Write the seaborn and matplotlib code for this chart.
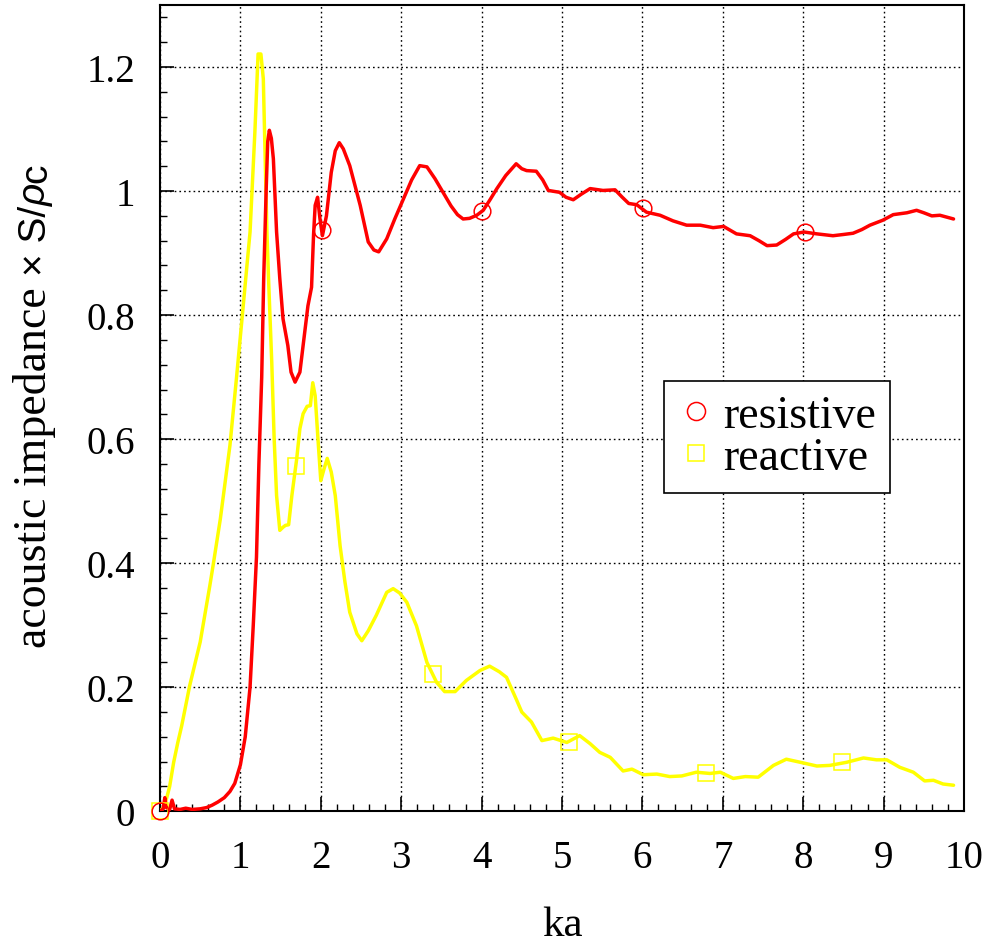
import numpy as np
import pandas as pd
import matplotlib
matplotlib.use("Agg")
import matplotlib.pyplot as plt
from matplotlib.lines import Line2D
from matplotlib.ticker import MultipleLocator, FuncFormatter
import seaborn as sns

# Radiation impedance of a piston (normalised by S/rho c) versus ka
resistive_ka = [0.00, 0.04, 0.06, 0.08, 0.12, 0.15, 0.18, 0.25, 0.32, 0.40,
                0.50, 0.58, 0.65, 0.72, 0.80, 0.87, 0.93, 1.00, 1.06, 1.12,
                1.16, 1.20, 1.23, 1.265, 1.29, 1.32, 1.34, 1.36, 1.385, 1.41,
                1.45, 1.49, 1.53, 1.59, 1.63, 1.68, 1.74, 1.78, 1.84, 1.885,
                1.91, 1.93, 1.96, 1.99, 2.02, 2.07, 2.13, 2.18, 2.23, 2.28,
                2.36, 2.49, 2.59, 2.66, 2.72, 2.82, 2.92, 3.03, 3.13, 3.23,
                3.32, 3.42, 3.52, 3.62, 3.70, 3.77, 3.85, 3.94, 4.02, 4.10,
                4.19, 4.30, 4.43, 4.50, 4.56, 4.68, 4.76, 4.83, 4.97, 5.05,
                5.14, 5.24, 5.35, 5.51, 5.66, 5.75, 5.83, 5.93, 6.05, 6.22,
                6.38, 6.55, 6.72, 6.88, 7.01, 7.17, 7.34, 7.45, 7.55, 7.67,
                7.78, 7.88, 8.01, 8.17, 8.37, 8.50, 8.62, 8.73, 8.83, 8.99,
                9.12, 9.29, 9.41, 9.50, 9.60, 9.70, 9.87]
resistive_val = [0.000, 0.004, 0.022, 0.006, 0.003, 0.018, 0.004, 0.003, 0.005, 0.003,
                 0.004, 0.006, 0.010, 0.015, 0.022, 0.032, 0.045, 0.075, 0.120, 0.200,
                 0.300, 0.410, 0.560, 0.700, 0.860, 1.000, 1.080, 1.098, 1.085, 1.052,
                 0.934, 0.859, 0.794, 0.751, 0.708, 0.692, 0.708, 0.751, 0.815, 0.845,
                 0.930, 0.977, 0.990, 0.955, 0.928, 0.960, 1.030, 1.065, 1.078, 1.068,
                 1.041, 0.977, 0.918, 0.905, 0.902, 0.923, 0.955, 0.988, 1.018, 1.041,
                 1.039, 1.020, 0.998, 0.976, 0.962, 0.955, 0.956, 0.961, 0.969, 0.985,
                 1.004, 1.025, 1.044, 1.036, 1.033, 1.032, 1.018, 1.001, 0.998, 0.990,
                 0.986, 0.995, 1.004, 1.001, 1.002, 0.990, 0.980, 0.978, 0.966, 0.961,
                 0.952, 0.945, 0.945, 0.941, 0.943, 0.931, 0.928, 0.920, 0.912, 0.913,
                 0.922, 0.931, 0.934, 0.931, 0.928, 0.930, 0.932, 0.938, 0.945, 0.953,
                 0.962, 0.965, 0.969, 0.965, 0.960, 0.961, 0.955]

reactive_ka = [0.00, 0.04, 0.08, 0.12, 0.17, 0.22, 0.27, 0.37, 0.50, 0.62,
               0.66, 0.75, 0.87, 0.95, 1.02, 1.06, 1.12, 1.18, 1.22, 1.255,
               1.285, 1.31, 1.33, 1.35, 1.39, 1.42, 1.45, 1.49, 1.53, 1.56,
               1.60, 1.64, 1.70, 1.74, 1.78, 1.83, 1.87, 1.90, 1.93, 1.97,
               2.00, 2.04, 2.08, 2.13, 2.18, 2.24, 2.30, 2.36, 2.45, 2.51,
               2.59, 2.69, 2.82, 2.90, 2.98, 3.07, 3.19, 3.32, 3.44, 3.54,
               3.67, 3.81, 3.98, 4.10, 4.22, 4.31, 4.43, 4.50, 4.62, 4.75,
               4.89, 5.06, 5.22, 5.35, 5.47, 5.60, 5.76, 5.87, 6.01, 6.18,
               6.34, 6.49, 6.67, 6.84, 6.97, 7.13, 7.28, 7.44, 7.63, 7.79,
               8.00, 8.17, 8.33, 8.54, 8.75, 8.91, 9.04, 9.20, 9.37, 9.51,
               9.62, 9.74, 9.87]
reactive_val = [0.000, 0.006, 0.020, 0.040, 0.079, 0.110, 0.138, 0.203, 0.273, 0.364,
                0.396, 0.471, 0.590, 0.697, 0.794, 0.850, 0.934, 1.095, 1.221, 1.221,
                1.181, 1.041, 0.934, 0.859, 0.724, 0.600, 0.509, 0.453, 0.458, 0.461,
                0.462, 0.509, 0.568, 0.617, 0.641, 0.653, 0.654, 0.691, 0.670, 0.590,
                0.533, 0.552, 0.569, 0.547, 0.509, 0.428, 0.370, 0.321, 0.286, 0.275,
                0.291, 0.316, 0.353, 0.359, 0.352, 0.337, 0.299, 0.240, 0.208, 0.193,
                0.193, 0.211, 0.227, 0.234, 0.225, 0.216, 0.181, 0.160, 0.144, 0.114,
                0.118, 0.111, 0.122, 0.109, 0.095, 0.087, 0.065, 0.068, 0.059, 0.060,
                0.056, 0.057, 0.063, 0.061, 0.063, 0.053, 0.056, 0.055, 0.074, 0.084,
                0.078, 0.073, 0.074, 0.079, 0.086, 0.083, 0.083, 0.071, 0.063, 0.049,
                0.050, 0.044, 0.042]

resistive_marker_ka = [0.00, 2.01, 4.01, 6.01, 8.02]
resistive_marker_val = [0.000, 0.937, 0.968, 0.973, 0.934]
reactive_marker_ka = [0.00, 1.69, 3.39, 5.09, 6.79, 8.48]
reactive_marker_val = [0.000, 0.557, 0.221, 0.111, 0.062, 0.079]

series_names = ["resistive", "reactive"]
series_colors = {"resistive": "#ff0000", "reactive": "#ffff00"}

df = pd.concat([
    pd.DataFrame({"ka": resistive_ka, "value": resistive_val, "part": "resistive"}),
    pd.DataFrame({"ka": reactive_ka, "value": reactive_val, "part": "reactive"}),
], ignore_index=True)

sns.set_theme(style="ticks")
plt.rcParams["font.family"] = ["Liberation Serif", "DejaVu Serif"]
plt.rcParams["text.color"] = "black"
plt.rcParams["axes.labelcolor"] = "black"
plt.rcParams["xtick.color"] = "black"
plt.rcParams["ytick.color"] = "black"

fig = plt.figure(figsize=(9.89, 9.45), dpi=100)
W, H = 989, 945
ax_l, ax_r, ax_t, ax_b = 160, 964, 6, 812.3
ax = fig.add_axes([ax_l / W, (H - ax_b) / H, (ax_r - ax_l) / W, (ax_b - ax_t) / H])

# reactive first so the resistive curve sits on top
for name in ["reactive", "resistive"]:
    sns.lineplot(data=df[df["part"] == name], x="ka", y="value",
                 color=series_colors[name], linewidth=2.5, sort=False,
                 estimator=None, legend=False, ax=ax, zorder=3)

ax.plot(reactive_marker_ka, reactive_marker_val, linestyle="none", marker="s",
        markersize=11.5, markerfacecolor="none", markeredgecolor="#ffff00",
        markeredgewidth=1.1, zorder=4, clip_on=False)
ax.plot(resistive_marker_ka, resistive_marker_val, linestyle="none", marker="o",
        markersize=12, markerfacecolor="none", markeredgecolor="#ff0000",
        markeredgewidth=1.1, zorder=4, clip_on=False)

ax.set_xlim(0, 10)
ax.set_ylim(0, 1.3)
ax.xaxis.set_major_locator(MultipleLocator(1))
ax.xaxis.set_minor_locator(MultipleLocator(0.2))
ax.yaxis.set_major_locator(MultipleLocator(0.2))
ax.yaxis.set_minor_locator(MultipleLocator(0.04))
ax.yaxis.set_major_formatter(FuncFormatter(lambda v, p: f"{v:g}"))
ax.xaxis.set_major_formatter(FuncFormatter(lambda v, p: f"{v:g}"))

ax.grid(True, which="major", color="black", linestyle=(0, (1.2, 2.2)), linewidth=1.0)
ax.tick_params(axis="both", which="major", direction="in", length=10, width=1.2,
               labelsize=28, colors="black", top=False, right=False)
ax.tick_params(axis="both", which="minor", direction="in", length=5, width=1.0,
               colors="black", top=False, right=False)
ax.tick_params(axis="x", which="major", pad=20)
ax.tick_params(axis="y", which="major", pad=18)
for s in ax.spines.values():
    s.set_visible(True)
    s.set_color("black")
    s.set_linewidth(1.5)

ax.set_xlabel("ka", fontsize=31, color="black")
ax.xaxis.set_label_coords(0.5, -0.117)
ax.set_ylabel("")

# y title: serif words followed by a sans-serif "× S/ρc"
ybase_x = 46 / W
ytitle_main = fig.text(ybase_x, (H - 648) / H, "acoustic impedance ", rotation=90,
                       rotation_mode="anchor", ha="left", va="baseline", fontsize=33,
                       color="black", family=["Liberation Serif"])
fig.canvas.draw()
renderer = fig.canvas.get_renderer()
y_next = ytitle_main.get_window_extent(renderer).y1
for piece, style in [("× S/", "normal"), ("ρ", "italic"), ("c", "normal")]:
    t = fig.text(ybase_x, y_next / H, piece, rotation=90, rotation_mode="anchor",
                 ha="left", va="baseline", fontsize=28, style=style,
                 color="black", family=["Liberation Sans"])
    y_next = t.get_window_extent(renderer).y1

handles = [
    Line2D([], [], linestyle="none", marker="o", markersize=13,
           markerfacecolor="none", markeredgecolor="#ff0000", markeredgewidth=1.1),
    Line2D([], [], linestyle="none", marker="s", markersize=11,
           markerfacecolor="none", markeredgecolor="#ffff00", markeredgewidth=1.1),
]
leg = ax.legend(handles, series_names, loc="center",
                bbox_to_anchor=((777 - ax_l) / (ax_r - ax_l), (ax_b - 438) / (ax_b - ax_t)),
                fontsize=33, frameon=True, fancybox=False, shadow=False,
                borderpad=0.3, labelspacing=0.0, handlelength=0.8,
                handletextpad=0.2, borderaxespad=0)
for txt in leg.get_texts():
    txt.set_color("black")
leg.get_frame().set_edgecolor("black")
leg.get_frame().set_linewidth(1.2)
leg.get_frame().set_facecolor("white")
leg.get_frame().set_alpha(1)
leg.set_zorder(5)

fig.savefig("out.png", dpi=100)
